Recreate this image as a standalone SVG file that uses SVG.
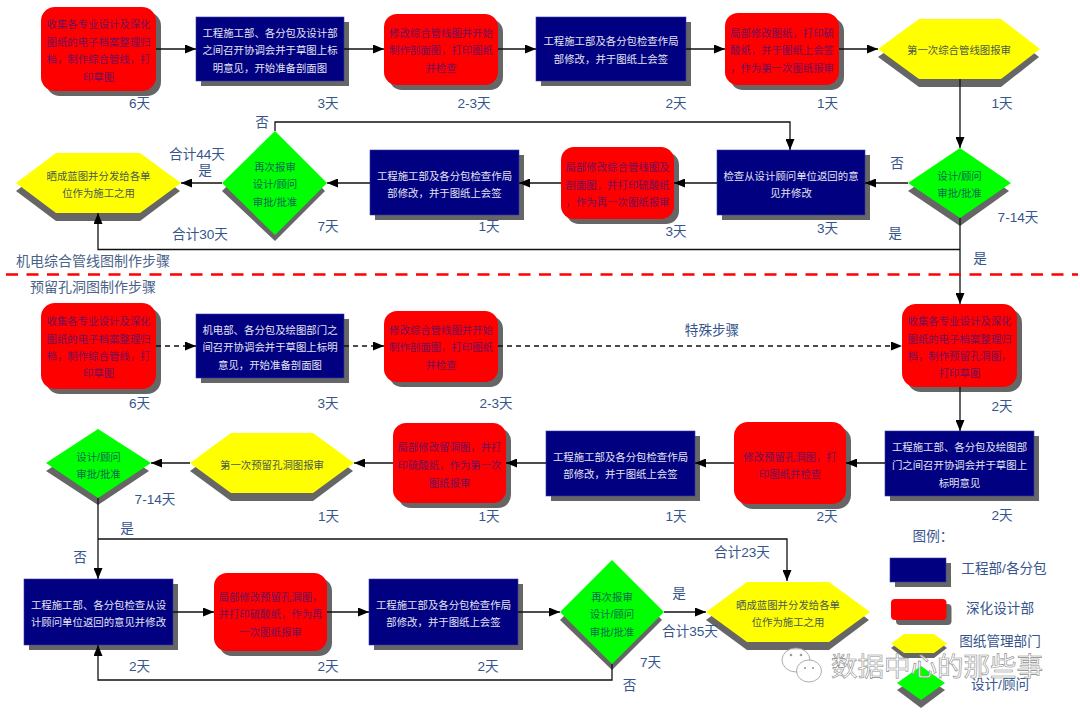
<svg xmlns="http://www.w3.org/2000/svg" width="1080" height="714" viewBox="0 0 1080 714">
<style>
text{font-family:"Liberation Sans","Noto Sans CJK SC",sans-serif;text-anchor:middle}
.s{fill:#666}
.b{fill:#000080;stroke:#3a3aa0;stroke-width:.6}
.r{fill:#f00}
.y{fill:#ff0}
.g{fill:#0f0}
.tb{font-size:10.4px;fill:#e4e4f4}
.tr{font-size:10.4px;fill:#70105a}
.ty{font-size:10.4px;fill:#4a5a50}
.tg{font-size:10.4px;fill:#0a6a55}
.l{font-size:13.6px;fill:#35558c}
.h{font-size:14px;fill:#4a6288;text-anchor:start}
.c{fill:none;stroke:#111;stroke-width:1.3}
.a{marker-end:url(#ah)}
.d{stroke-dasharray:5 4}
</style>
<defs>
<marker id="ah" markerUnits="userSpaceOnUse" markerWidth="11" markerHeight="9" refX="11" refY="4.5" orient="auto"><path d="M0 0L11 4.5L0 9Z" fill="#000"/></marker>
</defs>
<g id="n1"><rect class="s" x="46" y="12" width="115" height="84" rx="14"/><rect class="r" x="41" y="7" width="115" height="84" rx="14"/><text class="tr"><tspan x="98.5" y="28">收集各专业设计及深化</tspan><tspan x="98.5" y="46">图纸的电子档案整理归</tspan><tspan x="98.5" y="63">档，制作综合管线，打</tspan><tspan x="98.5" y="81">印草图</tspan></text></g>
<g id="n2"><rect class="s" x="201" y="22" width="148" height="64"/><rect class="b" x="196" y="17" width="148" height="64"/><text class="tb"><tspan x="270" y="37">工程施工部、各分包及设计部</tspan><tspan x="270" y="54">之间召开协调会并于草图上标</tspan><tspan x="270" y="72">明意见，开始准备剖面图</tspan></text></g>
<g id="n3"><rect class="s" x="389" y="19" width="114" height="71" rx="13"/><rect class="r" x="384" y="14" width="114" height="71" rx="13"/><text class="tr"><tspan x="441" y="37">修改综合管线图并开始</tspan><tspan x="441" y="54">制作剖面图，打印图纸</tspan><tspan x="441" y="72">并检查</tspan></text></g>
<g id="n4"><rect class="s" x="541" y="22" width="150" height="64"/><rect class="b" x="536" y="17" width="150" height="64"/><text class="tb"><tspan x="611" y="45">工程施工部及各分包检查作局</tspan><tspan x="611" y="63">部修改，并于图纸上会签</tspan></text></g>
<g id="n5"><rect class="s" x="730" y="18" width="114" height="72" rx="13"/><rect class="r" x="725" y="13" width="114" height="72" rx="13"/><text class="tr"><tspan x="782" y="37">局部修改图纸，打印硫</tspan><tspan x="782" y="54">酸纸，并于图纸上会签</tspan><tspan x="782" y="72">，作为第一次图纸报审</tspan></text></g>
<g id="n6"><polygon class="s" points="878,57 919,27 1001,27 1039,57 1001,87 919,87"/><polygon class="y" points="878,49 919,19 1001,19 1040,49 1001,79 919,79"/><text class="ty" x="959" y="54">第一次综合管线图报审</text></g>
<g id="n7"><polygon class="s" points="908,191 960,156 1009,191 960,226"/><polygon class="g" points="908,183 960,148 1011,183 960,218"/><text class="tg"><tspan x="959.5" y="180">设计/顾问</tspan><tspan x="959.5" y="197">审批/批准</tspan></text></g>
<g id="n8"><rect class="s" x="722" y="155" width="148" height="65"/><rect class="b" x="717" y="150" width="148" height="65"/><text class="tb"><tspan x="791" y="180">检查从设计顾问单位返回的意</tspan><tspan x="791" y="197">见并修改</tspan></text></g>
<g id="n9"><rect class="s" x="566" y="152" width="113" height="72" rx="13"/><rect class="r" x="561" y="147" width="113" height="72" rx="13"/><text class="tr"><tspan x="617.5" y="171">局部修改综合管线图及</tspan><tspan x="617.5" y="189">剖面图，并打印硫酸纸</tspan><tspan x="617.5" y="206">，作为再一次图纸报审</tspan></text></g>
<g id="n10"><rect class="s" x="375" y="155" width="149" height="65"/><rect class="b" x="370" y="150" width="149" height="65"/><text class="tb"><tspan x="444.5" y="180">工程施工部及各分包检查作局</tspan><tspan x="444.5" y="197">部修改，并于图纸上会签</tspan></text></g>
<g id="n11"><polygon class="s" points="222,191 275,139 325,191 275,241"/><polygon class="g" points="222,183 275,131 327,183 275,235"/><text class="tg"><tspan x="275" y="171">再次报审</tspan><tspan x="275" y="188">设计/顾问</tspan><tspan x="275" y="206">审批/批准</tspan></text></g>
<g id="n12"><polygon class="s" points="16,191 56,161 140,161 180,191 140,221 56,221"/><polygon class="y" points="16,183 56,153 140,153 181,183 140,213 56,213"/><text class="ty"><tspan x="98.5" y="180">晒成蓝图并分发给各单</tspan><tspan x="98.5" y="197">位作为施工之用</tspan></text></g>
<g id="n13"><rect class="s" x="46" y="308" width="115" height="86" rx="14"/><rect class="r" x="41" y="303" width="115" height="86" rx="14"/><text class="tr"><tspan x="98.5" y="325">收集各专业设计及深化</tspan><tspan x="98.5" y="343">图纸的电子档案整理归</tspan><tspan x="98.5" y="360">档，制作综合管线，打</tspan><tspan x="98.5" y="377">印草图</tspan></text></g>
<g id="n14"><rect class="s" x="201" y="319" width="148" height="64"/><rect class="b" x="196" y="314" width="148" height="64"/><text class="tb"><tspan x="270" y="334">机电部、各分包及绘图部门之</tspan><tspan x="270" y="351">间召开协调会并于草图上标明</tspan><tspan x="270" y="369">意见，开始准备剖面图</tspan></text></g>
<g id="n15"><rect class="s" x="389" y="316" width="114" height="71" rx="13"/><rect class="r" x="384" y="311" width="114" height="71" rx="13"/><text class="tr"><tspan x="441" y="334">修改综合管线图并开始</tspan><tspan x="441" y="351">制作剖面图，打印图纸</tspan><tspan x="441" y="369">并检查</tspan></text></g>
<g id="n16"><rect class="s" x="907" y="309" width="115" height="83" rx="14"/><rect class="r" x="902" y="304" width="115" height="83" rx="14"/><text class="tr"><tspan x="959.5" y="325">收集各专业设计及深化</tspan><tspan x="959.5" y="343">图纸的电子档案整理归</tspan><tspan x="959.5" y="360">档，制作预留孔洞图，</tspan><tspan x="959.5" y="377">打印草图</tspan></text></g>
<g id="n17"><rect class="s" x="890" y="436" width="149" height="65"/><rect class="b" x="885" y="431" width="149" height="65"/><text class="tb"><tspan x="959.5" y="451">工程施工部、各分包及绘图部</tspan><tspan x="959.5" y="469">门之间召开协调会并于草图上</tspan><tspan x="959.5" y="487">标明意见</tspan></text></g>
<g id="n18"><rect class="s" x="739" y="427" width="112" height="82" rx="14"/><rect class="r" x="734" y="422" width="112" height="82" rx="14"/><text class="tr"><tspan x="790" y="461">修改预留孔洞图，打</tspan><tspan x="790" y="478">印图纸并检查</tspan></text></g>
<g id="n19"><rect class="s" x="551" y="436" width="149" height="65"/><rect class="b" x="546" y="431" width="149" height="65"/><text class="tb"><tspan x="620.5" y="461">工程施工部及各分包检查作局</tspan><tspan x="620.5" y="478">部修改，并于图纸上会签</tspan></text></g>
<g id="n20"><rect class="s" x="398" y="428" width="113" height="80" rx="13"/><rect class="r" x="393" y="423" width="113" height="80" rx="13"/><text class="tr"><tspan x="449.5" y="451">局部修改留洞图，并打</tspan><tspan x="449.5" y="469">印硫酸纸，作为第一次</tspan><tspan x="449.5" y="487">图纸报审</tspan></text></g>
<g id="n21"><polygon class="s" points="190,471 231,441 313,441 353,471 313,501 231,501"/><polygon class="y" points="190,463 231,433 313,433 354,463 313,493 231,493"/><text class="ty" x="272" y="469">第一次预留孔洞图报审</text></g>
<g id="n22"><polygon class="s" points="46,471 98,437 149,471 98,505"/><polygon class="g" points="46,463 98,429 151,463 98,498"/><text class="tg"><tspan x="98.5" y="461">设计/顾问</tspan><tspan x="98.5" y="478">审批/批准</tspan></text></g>
<g id="n23"><rect class="s" x="29" y="584" width="149" height="66"/><rect class="b" x="24" y="579" width="149" height="66"/><text class="tb"><tspan x="98.5" y="609">工程施工部、各分包检查从设</tspan><tspan x="98.5" y="626">计顾问单位返回的意见并修改</tspan></text></g>
<g id="n24"><rect class="s" x="219" y="578" width="113" height="78" rx="13"/><rect class="r" x="214" y="573" width="113" height="78" rx="13"/><text class="tr"><tspan x="270.5" y="601">局部修改预留孔洞图，</tspan><tspan x="270.5" y="618">并打印硫酸纸，作为再</tspan><tspan x="270.5" y="636">一次图纸报审</tspan></text></g>
<g id="n25"><rect class="s" x="374" y="584" width="149" height="66"/><rect class="b" x="369" y="579" width="149" height="66"/><text class="tb"><tspan x="443.5" y="609">工程施工部及各分包检查作局</tspan><tspan x="443.5" y="626">部修改，并于图纸上会签</tspan></text></g>
<g id="n26"><polygon class="s" points="560,620 612,568 662,620 612,670"/><polygon class="g" points="560,612 612,560 664,612 612,664"/><text class="tg"><tspan x="612" y="601">再次报审</tspan><tspan x="612" y="618">设计/顾问</tspan><tspan x="612" y="636">审批/批准</tspan></text></g>
<g id="n27"><polygon class="s" points="706,620 747,650 829,650 869,620 829,590 747,590"/><polygon class="y" points="706,612 747,582 829,582 870,612 829,642 747,642"/><text class="ty"><tspan x="788" y="609">晒成蓝图并分发给各单</tspan><tspan x="788" y="626">位作为施工之用</tspan></text></g>
<g id="connectors">
<path class="c a" d="M156 49H196"/><path class="c a" d="M344 49H384"/><path class="c a" d="M498 49H536"/><path class="c a" d="M686 49H725"/><path class="c a" d="M839 49H878"/>
<path class="c a" d="M960 79V148"/><path class="c a" d="M908 183H865"/><path class="c a" d="M717 183H674"/><path class="c a" d="M561 183H519"/><path class="c a" d="M370 183H327"/><path class="c a" d="M222 183H181"/>
<path class="c a" d="M275 131V122H790V150"/>
<path class="c a" d="M960 218V304"/><path class="c a" d="M960 249.5H98V213"/>
<path class="c d a" d="M156 346H196"/><path class="c d a" d="M344 346H384"/><path class="c d a" d="M498 346H902"/>
<path class="c a" d="M960 387V431"/><path class="c a" d="M885 463H846"/><path class="c a" d="M734 463H695"/><path class="c a" d="M546 463H506"/><path class="c a" d="M393 463H354"/><path class="c a" d="M190 463H151"/>
<path class="c a" d="M98 498V579"/><path class="c a" d="M98 539H787V581"/>
<path class="c a" d="M173 612H214"/><path class="c a" d="M327 612H369"/><path class="c a" d="M518 612H560"/><path class="c a" d="M664 612H706"/>
<path class="c a" d="M612 664V680H98V645"/>
</g>
<path d="M6 274.5H1078" fill="none" stroke="#f00" stroke-width="2.4" stroke-dasharray="12 8.5"/>
<g id="labels">
<text class="l" x="139.5" y="108">6天</text><text class="l" x="328" y="108">3天</text><text class="l" x="474" y="108">2-3天</text><text class="l" x="676" y="108">2天</text><text class="l" x="827.5" y="108">1天</text><text class="l" x="1002" y="108">1天</text>
<text class="l" x="262" y="127">否</text><text class="l" x="197" y="159">合计44天</text><text class="l" x="205" y="175">是</text><text class="l" x="328" y="231">7天</text><text class="l" x="489" y="231">1天</text><text class="l" x="200" y="239">合计30天</text>
<text class="l" x="676" y="236">3天</text><text class="l" x="827.5" y="233">3天</text><text class="l" x="897" y="168">否</text><text class="l" x="1018" y="222">7-14天</text><text class="l" x="895" y="238">是</text><text class="l" x="980" y="263">是</text>
<text class="h" x="16" y="266">机电综合管线图制作步骤</text><text class="h" x="30" y="292">预留孔洞图制作步骤</text>
<text class="l" x="139.5" y="408">6天</text><text class="l" x="328" y="408">3天</text><text class="l" x="496" y="408">2-3天</text><text class="l" x="712" y="335">特殊步骤</text><text class="l" x="1002" y="411">2天</text>
<text class="l" x="155" y="504">7-14天</text><text class="l" x="328.5" y="521">1天</text><text class="l" x="489" y="521">1天</text><text class="l" x="676" y="521">1天</text><text class="l" x="827" y="521">2天</text><text class="l" x="1002" y="520">2天</text>
<text class="l" x="127" y="533">是</text><text class="l" x="80" y="562">否</text>
<text class="l" x="139.5" y="671">2天</text><text class="l" x="328" y="671">2天</text><text class="l" x="488" y="671">2天</text><text class="l" x="742" y="557">合计23天</text><text class="l" x="679" y="598">是</text><text class="l" x="690" y="636">合计35天</text><text class="l" x="650.5" y="667">7天</text><text class="l" x="629.5" y="690">否</text>
</g>
<g id="legend">
<text class="l" x="933" y="541">图例：</text>
<rect class="s" x="895" y="563" width="56" height="24"/><rect class="b" x="890" y="558" width="56" height="24"/><text class="l" x="1004" y="573">工程部/各分包</text>
<rect class="s" x="896" y="604" width="55.500" height="21" rx="4"/><rect class="r" x="891" y="599" width="55.500" height="21" rx="4"/><text class="l" x="1000" y="613">深化设计部</text>
<polygon class="s" points="891,648 904,638 934,638 947,648 934,658 904,658"/><polygon class="y" points="891,643.500 904,634 934,634 947,643.500 934,653 904,653"/><text class="l" x="1000" y="646">图纸管理部门</text>
<polygon class="s" points="897,690 921,674 945,690 921,708"/><polygon class="g" points="897,683 921,666 945,683 921,700"/><text class="l" x="1000" y="689">设计/顾问</text>
</g>
<g id="watermark">
<ellipse cx="796" cy="660" rx="14" ry="12" fill="#fff" fill-opacity=".8" stroke="#999" stroke-width=".8"/>
<ellipse cx="809" cy="671" rx="12.500" ry="11" fill="#fff" fill-opacity=".85" stroke="#999" stroke-width=".8"/>
<circle cx="791" cy="655" r="1.300" fill="#999"/><circle cx="801" cy="655" r="1.300" fill="#999"/><circle cx="805" cy="668" r="1.100" fill="#999"/><circle cx="813" cy="668" r="1.100" fill="#999"/>
<text x="937" y="676" font-size="26.500" fill="#fff" fill-opacity=".75" stroke="#8a8a8a" stroke-width=".6">数据中心的那些事</text>
</g>
</svg>
